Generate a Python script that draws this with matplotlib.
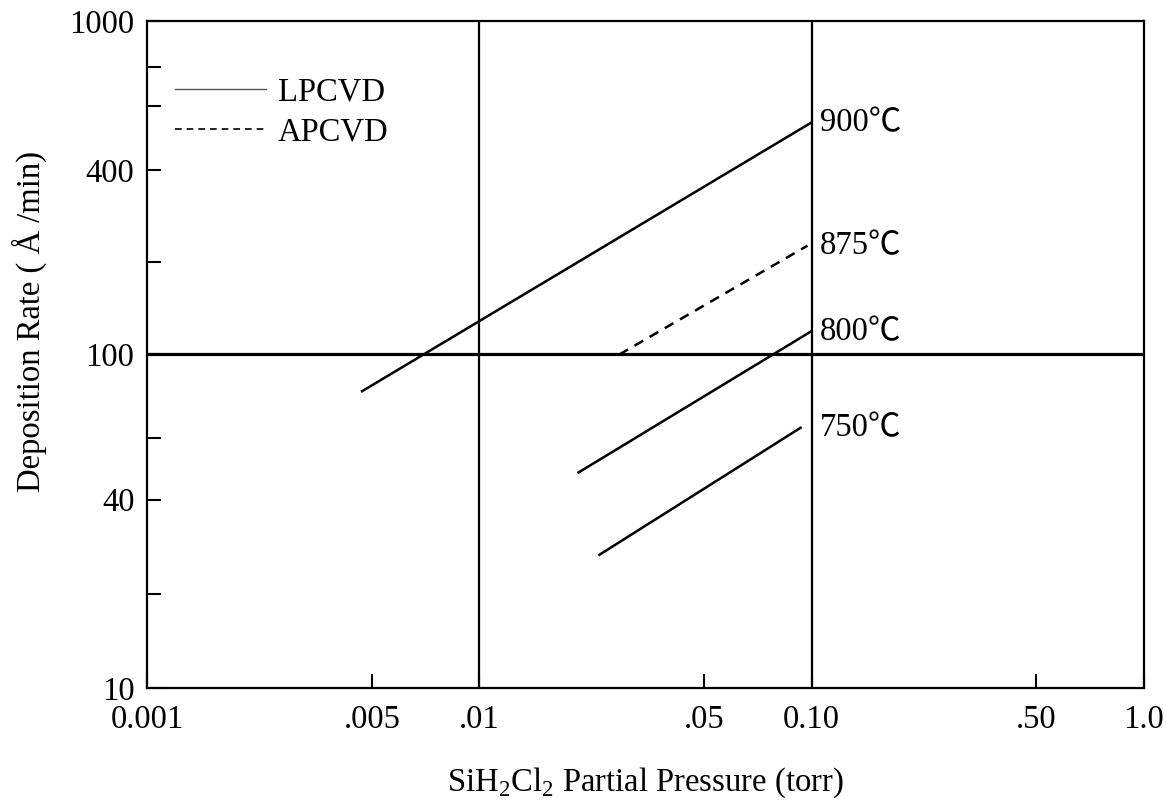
import matplotlib
matplotlib.use('Agg')
import matplotlib.pyplot as plt
from matplotlib.lines import Line2D

plt.rcParams['font.family'] = ['Liberation Serif', 'Noto Sans CJK SC', 'DejaVu Serif']
plt.rcParams['mathtext.fontset'] = 'custom'
plt.rcParams['mathtext.rm'] = 'Liberation Serif'

# deposition-rate lines (x: torr, y: A/min)
temps = ['900℃', '875℃', '800℃', '750℃']
p_start = [0.00444, 0.0264, 0.0199, 0.0230]
p_end = [0.0993, 0.0973, 0.0993, 0.0927]
r_start = [77.6, 100.0, 44.3, 25.1]
r_end = [494.0, 212.0, 117.0, 60.3]
styles = ['-', '--', '-', '-']

# axis ticks as drawn on the original figure
x_ticks = [0.001, 0.00476, 0.01, 0.0475, 0.1, 0.475, 1.0]
x_labels = ['0.001', '.005', '.01', '.05', '0.10', '.50', '1.0']
y_ticks = [10, 19.2, 36.7, 56.2, 100, 189, 357, 556, 728, 1000]
y_labels = ['10', '', '40', '', '100', '', '400', '', '', '1000']

FS = 23.5


def main():
    fig = plt.figure(figsize=(11.66, 8.02), dpi=100)
    ax = fig.add_axes([0.126, 0.142, 0.855, 0.832])
    ax.set_xscale('log')
    ax.set_yscale('log')
    ax.set_xlim(0.001, 1.0)
    ax.set_ylim(10, 1000)

    # reference lines
    for xv in [0.01, 0.1]:
        ax.axvline(xv, color='black', lw=1.6, zorder=1)
    ax.axhline(100, color='black', lw=2.3, zorder=1)

    for i in range(len(temps)):
        ax.plot([p_start[i], p_end[i]], [r_start[i], r_end[i]],
                color='black', lw=1.8, ls=styles[i], dashes=(4, 3) if styles[i] == '--' else (None, None),
                zorder=2)
        ax.annotate(temps[i], xy=(0.1, r_end[i]), xytext=(6, 0), textcoords='offset points',
                    fontsize=FS, va='center', ha='left')

    ax.set_xticks(x_ticks)
    ax.set_xticklabels(x_labels)
    ax.set_yticks(y_ticks)
    ax.set_yticklabels(y_labels)
    ax.minorticks_off()
    ax.tick_params(direction='in', length=10, width=1.5, labelsize=FS, colors='black')
    ax.tick_params(axis='x', pad=12)
    ax.tick_params(axis='y', pad=9)
    for s in ax.spines.values():
        s.set_linewidth(1.6)

    ax.set_xlabel(r'SiH$_2$Cl$_2$ Partial Pressure (torr)', fontsize=FS, labelpad=22)
    ax.set_ylabel('Deposition Rate ( Å /min)', fontsize=FS)
    ax.yaxis.set_label_coords(-0.1, 0.55)

    handles = [Line2D([], [], color='#555555', lw=1.0, ls='-'),
               Line2D([], [], color='black', lw=1.2, ls='--', dashes=(4, 3))]
    ax.legend(handles, ['LPCVD', 'APCVD'], loc='upper left', bbox_to_anchor=(0.028, 0.916),
              frameon=False, fontsize=FS, handlelength=2.8, handletextpad=0.35,
              labelspacing=0.3, borderaxespad=0, borderpad=0)

    fig.savefig('out.png', dpi=100)


if __name__ == '__main__':
    main()
